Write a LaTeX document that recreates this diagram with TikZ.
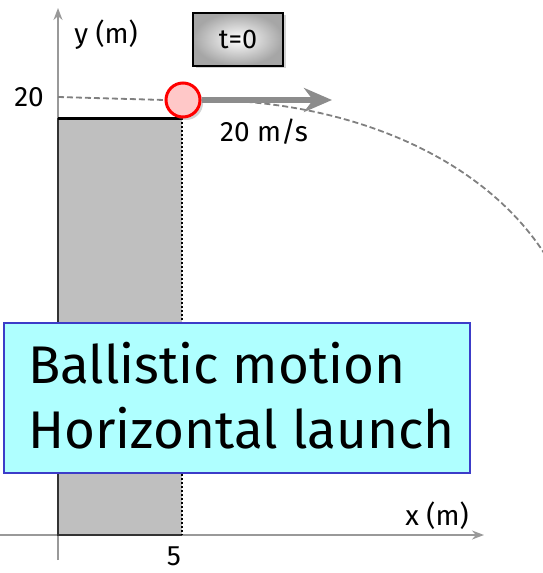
\documentclass[tikz,border=0pt]{standalone}
\usepackage{fontspec}
\setmainfont{Fira Sans}
\usetikzlibrary{arrows.meta,shadows}

\begin{document}
\begin{tikzpicture}[x=1pt,y=-1pt,
    axis/.style = {draw=gray!80, line width=1.6pt, -{Stealth[length=12pt,width=9pt]}},
    lbl/.style = {font=\fontsize{28}{32}\selectfont, inner sep=0pt},
    guide/.style = {draw=gray, line width=1.8pt, dash pattern=on 6pt off 3pt}
]
    \useasboundingbox (0,0) rectangle (543,573);
    % axes
    \coordinate (O) at (58,535);
    \coordinate (ytop) at (58,8);
    \coordinate (ybot) at (58,560);
    \coordinate (xleft) at (0,535);
    \coordinate (xright) at (484,535);
    \draw[axis] (ybot) -- (ytop);
    \draw[axis] (xleft) -- (xright);
    \node[lbl] (ylab) at (106,35) {y (m)};
    \node[lbl] (xlab) at (437,516) {x (m)};
    \node[lbl] (ytick) at (29,97) {20};
    \node[lbl] (xtick) at (174,556) {5};
    % building
    \fill[gray!50] (58,118) rectangle (182,535);
    \draw[gray!40!black, line width=1.4pt] (182,535) -- (58,535) -- (58,118);
    \draw[black, line width=3pt] (58,118) -- (182,118);
    \draw[black, line width=2pt, dash pattern=on 2pt off 2pt] (182,118) -- (182,535);
    % launch
    \coordinate (y20) at (58,97);
    \coordinate (vtip) at (332,100);
    \coordinate (trajend) at (546,256);
    \node[circle, minimum size=34pt, inner sep=0pt, draw=red, line width=3pt,
          fill={rgb,255:red,255;green,200;blue,200},
          drop shadow={opacity=0.35, shadow xshift=3pt, shadow yshift=-3pt}] (ball) at (183,100) {};
    \draw[guide] (y20) -- (ball.west);
    \draw[guide] (ball) .. controls (340,100) and (480,152) .. (trajend);
    \draw[draw=gray!90, line width=6pt, -{Stealth[length=28pt,width=24pt,inset=9pt]}] (ball.east) -- (vtip);
    \node[lbl] (vlab) at (264,132) {20 m/s};
    % time
    \node[draw=black, line width=2pt, minimum width=90pt, minimum height=53pt,
          shading=radial, inner color=white, middle color=gray!25, outer color=gray!70,
          drop shadow={opacity=0.35}, font=\fontsize{27}{30}\selectfont] (tbox) at (238,39) {t=0};
    % title
    \node[draw={rgb,255:red,60;green,60;blue,200}, line width=1.5pt,
          fill={rgb,255:red,175;green,255;blue,255},
          minimum width=466pt, minimum height=150pt] (title) at (237,398) {};
    \node[anchor=west, align=left, inner sep=0pt,
          font=\fontsize{53}{65}\selectfont] (titletext) at (28,396)
          {Ballistic motion\\Horizontal launch};
\end{tikzpicture}
\end{document}
